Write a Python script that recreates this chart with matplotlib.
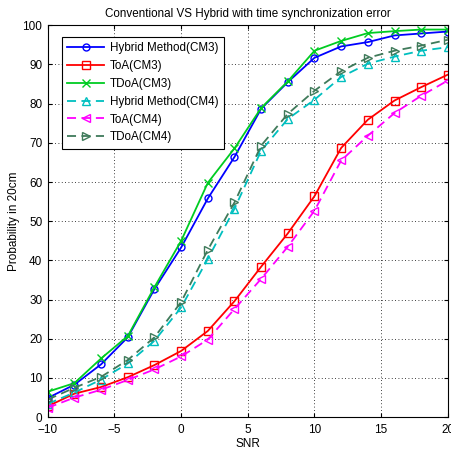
import matplotlib
matplotlib.use("Agg")
import matplotlib.pyplot as plt

plt.rcParams['font.family'] = ['Liberation Sans', 'DejaVu Sans']

snr = [-10, -8, -6, -4, -2, 0, 2, 4, 6, 8, 10, 12, 14, 16, 18, 20]
hybrid_cm3 = [4.9, 8.3, 13.5, 20.4, 32.7, 43.3, 55.8, 66.4, 78.7, 85.5, 91.7, 94.6, 95.7, 97.4, 97.9, 98.4]
toa_cm3 = [2.8, 6.0, 7.7, 10.2, 13.3, 16.9, 22.0, 29.6, 38.4, 46.9, 56.4, 68.7, 75.9, 80.8, 84.2, 87.4]
tdoa_cm3 = [6.5, 8.7, 15.0, 20.7, 33.2, 45.0, 59.8, 68.6, 78.9, 85.7, 93.5, 96.0, 98.0, 98.5, 98.9, 98.9]
hybrid_cm4 = [3.4, 6.3, 9.6, 13.7, 19.5, 28.0, 40.4, 53.2, 68.0, 76.1, 81.0, 86.8, 90.2, 92.0, 93.5, 94.4]
toa_cm4 = [2.4, 5.0, 7.0, 9.5, 12.2, 15.5, 19.8, 27.6, 35.3, 43.5, 52.7, 65.5, 71.8, 77.6, 82.0, 85.9]
tdoa_cm4 = [4.5, 7.5, 10.3, 14.6, 20.4, 29.4, 42.7, 54.8, 69.3, 77.4, 83.3, 88.3, 91.7, 93.5, 94.8, 96.3]

labels = ['Hybrid Method(CM3)', 'ToA(CM3)', 'TDoA(CM3)',
          'Hybrid Method(CM4)', 'ToA(CM4)', 'TDoA(CM4)']

fig = plt.figure(figsize=(4.51, 4.51), dpi=100)
ax = fig.add_axes([0.106, 0.075, 0.887, 0.869])

lw = 1.3
ms = 5
ax.plot(snr, hybrid_cm3, '-', color='#0000ff', marker='o', mfc='none', ms=ms, lw=lw, label=labels[0])
ax.plot(snr, toa_cm3, '-', color='#ff0000', marker='s', mfc='none', ms=ms + 1, lw=lw, label=labels[1])
ax.plot(snr, tdoa_cm3, '-', color='#00cc22', marker='x', ms=ms + 1, lw=lw, label=labels[2])
ax.plot(snr, hybrid_cm4, '--', color='#00bfbf', marker='^', mfc='none', ms=ms + 1, lw=lw, label=labels[3], dashes=(5, 3))
ax.plot(snr, toa_cm4, '--', color='#ff00ff', marker='<', mfc='none', ms=ms + 1, lw=lw, label=labels[4], dashes=(5, 3))
ax.plot(snr, tdoa_cm4, '--', color='#3f7a5a', marker='>', mfc='none', ms=ms + 1, lw=lw, label=labels[5], dashes=(5, 3))

ax.set_xlim(-10, 20)
ax.set_ylim(0, 100)
ax.set_xticks([-10, -5, 0, 5, 10, 15, 20])
ax.set_yticks(range(0, 101, 10))
ax.grid(True, linestyle=(0, (1, 3)), color='black', linewidth=0.6)
ax.tick_params(direction='in', labelsize=8.5, length=3, top=True, right=True)
ax.tick_params(axis='x', pad=5)
ax.tick_params(axis='y', pad=4)
for s in ax.spines.values():
    s.set_linewidth(0.8)

ax.set_xlabel('SNR', fontsize=8.5, labelpad=1)
ax.set_ylabel('Probability in 20cm', fontsize=8.5, labelpad=2)
ax.set_title('Conventional VS Hybrid with time synchronization error', fontsize=8.4, pad=6)

leg = ax.legend(loc='upper left', bbox_to_anchor=(0.02, 0.985), fontsize=8.4, frameon=True,
                fancybox=False, edgecolor='black', framealpha=1, handlelength=3.2,
                borderpad=0.45, labelspacing=0.5, handletextpad=0.5)
leg.get_frame().set_linewidth(0.8)

fig.savefig('out.png', dpi=100)
